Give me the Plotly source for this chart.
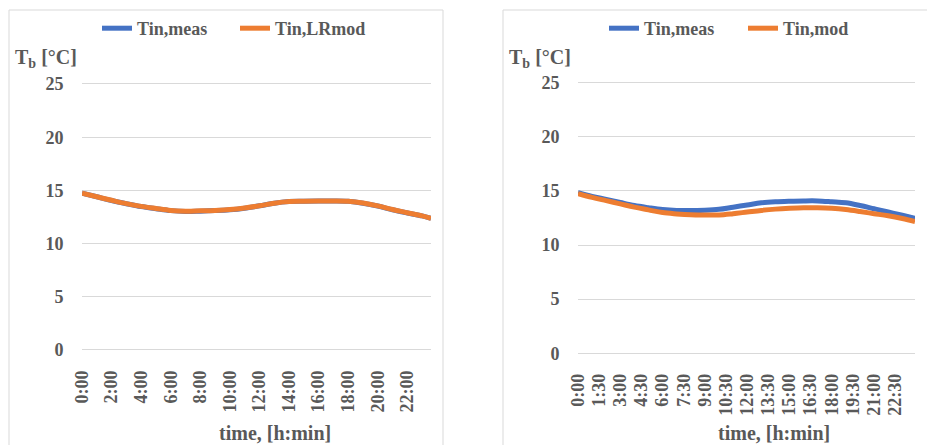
import plotly.graph_objects as go

W, H = 927, 445

# ---- data (hours since midnight, indoor temperature in °C) ----
hours_left = [0, 1, 2, 3, 4, 5, 6, 7, 8, 9, 10, 11, 12, 13, 14, 15, 16, 17, 18, 19, 20, 21, 22, 23, 23.6]
tin_meas_left = [14.75, 14.4, 14.05, 13.75, 13.48, 13.28, 13.1, 13.02, 13.05, 13.1, 13.18, 13.33, 13.55,
                 13.8, 13.95, 13.98, 14.0, 14.0, 13.97, 13.8, 13.53, 13.18, 12.88, 12.6, 12.38]
tin_lrmod_left = [14.73, 14.4, 14.07, 13.76, 13.5, 13.3, 13.12, 13.05, 13.08, 13.12, 13.2, 13.35, 13.55,
                  13.8, 13.95, 13.98, 14.0, 14.0, 13.97, 13.82, 13.55, 13.2, 12.9, 12.6, 12.38]

hours_right = [0, 1, 2, 3, 4, 5, 6, 7, 8, 9, 10, 11, 12, 13, 14, 15, 16, 17, 18, 19, 20, 21, 22, 23, 23.9]
tin_meas_right = [14.85, 14.5, 14.22, 13.93, 13.65, 13.45, 13.28, 13.2, 13.2, 13.22, 13.3, 13.5, 13.7,
                  13.9, 14.0, 14.05, 14.08, 14.08, 14.0, 13.9, 13.65, 13.35, 13.05, 12.75, 12.48]
tin_mod_right = [14.75, 14.4, 14.1, 13.8, 13.5, 13.25, 13.0, 12.88, 12.8, 12.78, 12.78, 12.9, 13.05,
                 13.2, 13.32, 13.4, 13.45, 13.45, 13.4, 13.28, 13.1, 12.9, 12.7, 12.45, 12.18]

tick_hours_left = [0, 2, 4, 6, 8, 10, 12, 14, 16, 18, 20, 22]
tick_text_left = ["0:00", "2:00", "4:00", "6:00", "8:00", "10:00", "12:00", "14:00", "16:00", "18:00", "20:00", "22:00"]
tick_hours_right = [0, 1.5, 3, 4.5, 6, 7.5, 9, 10.5, 12, 13.5, 15, 16.5, 18, 19.5, 21, 22.5]
tick_text_right = ["0:00", "1:30", "3:00", "4:30", "6:00", "7:30", "9:00", "10:30", "12:00", "13:30",
                   "15:00", "16:30", "18:00", "19:30", "21:00", "22:30"]
y_ticks = [0, 5, 10, 15, 20, 25]

BLUE = "#4472C4"
ORANGE = "#ED7D31"
GRID = "#D9D9D9"
TXT = "#595959"
FONT = "Times New Roman, Liberation Serif, serif"


def px_x(p):
    return p / W


def px_y(p):
    return (H - p) / H


fig = go.Figure()

fig.add_trace(go.Scatter(x=hours_left, y=tin_meas_left, name="Tin,meas", mode="lines",
                         line=dict(color=BLUE, width=5, shape="spline"), xaxis="x", yaxis="y",
                         legend="legend"))
fig.add_trace(go.Scatter(x=hours_left, y=tin_lrmod_left, name="Tin,LRmod", mode="lines",
                         line=dict(color=ORANGE, width=5, shape="spline"), xaxis="x", yaxis="y",
                         legend="legend"))
fig.add_trace(go.Scatter(x=hours_right, y=tin_meas_right, name="Tin,meas", mode="lines",
                         line=dict(color=BLUE, width=5, shape="spline"), xaxis="x2", yaxis="y2",
                         legend="legend2"))
fig.add_trace(go.Scatter(x=hours_right, y=tin_mod_right, name="Tin,mod", mode="lines",
                         line=dict(color=ORANGE, width=5, shape="spline"), xaxis="x2", yaxis="y2",
                         legend="legend2"))

# left plot geometry: value 0 at y=350 px, 25 at y=84 px
l_ppu = (350 - 84) / 25
l_lo, l_hi = -0.3, 25.3
r_ppu = (353.3 - 82.7) / 25
r_lo, r_hi = -0.3, 25.3

tickfont = dict(family=FONT, size=18, color=TXT, weight="bold")
titlefont = dict(family=FONT, size=20, color=TXT, weight="bold")
legfont = dict(family=FONT, size=18, color=TXT, weight="bold")

common_x = dict(showgrid=False, zeroline=False, showline=False, ticks="outside", ticklen=9,
                tickcolor="rgba(0,0,0,0)", tickangle=-90, tickfont=tickfont, tickmode="array",
                automargin=False)
common_y = dict(showgrid=True, gridcolor=GRID, gridwidth=1, zeroline=False, showline=False,
                ticks="outside", ticklen=14, tickcolor="rgba(0,0,0,0)", tickfont=tickfont,
                tickmode="array", tickvals=y_ticks, ticktext=[str(v) for v in y_ticks],
                automargin=False)

fig.update_layout(
    template="none",
    width=W, height=H,
    margin=dict(l=0, r=0, t=0, b=0, pad=0, autoexpand=False),
    paper_bgcolor="white", plot_bgcolor="white",
    font=dict(family=FONT, color=TXT, size=18, weight="bold"),
    xaxis=dict(domain=[px_x(82), px_x(431)], range=[0, 23.6], tickvals=tick_hours_left,
               ticktext=tick_text_left, anchor="y", **common_x),
    yaxis=dict(domain=[px_y(350 - l_lo * l_ppu), px_y(350 - l_hi * l_ppu)],
               range=[l_lo, l_hi], anchor="x", **common_y),
    xaxis2=dict(domain=[px_x(578), px_x(915)], range=[0, 23.9], tickvals=tick_hours_right,
                ticktext=tick_text_right, anchor="y2", **common_x),
    yaxis2=dict(domain=[px_y(353.3 - r_lo * r_ppu), px_y(353.3 - r_hi * r_ppu)],
                range=[r_lo, r_hi], anchor="x2", **common_y),
    legend=dict(orientation="h", x=px_x(97), y=px_y(10), xanchor="left", yanchor="top",
                font=legfont, bgcolor="rgba(0,0,0,0)", borderwidth=0, traceorder="normal",
                itemwidth=30, entrywidth=93),
    legend2=dict(orientation="h", x=px_x(604), y=px_y(10), xanchor="left", yanchor="top",
                 font=legfont, bgcolor="rgba(0,0,0,0)", borderwidth=0, traceorder="normal",
                 itemwidth=30, entrywidth=94),
    showlegend=True,
)

# panel borders
fig.add_shape(type="rect", xref="paper", yref="paper", x0=px_x(9), x1=px_x(443), y0=-0.02, y1=px_y(10),
              line=dict(color=GRID, width=1), fillcolor="rgba(0,0,0,0)", layer="below")
fig.add_shape(type="rect", xref="paper", yref="paper", x0=px_x(503), x1=1.02, y0=-0.02, y1=px_y(10),
              line=dict(color=GRID, width=1), fillcolor="rgba(0,0,0,0)", layer="below")

# y-axis labels (T_b [°C]) and x-axis titles
for xc in (46, 540):
    fig.add_annotation(text="T<sub>b</sub> [°C]", xref="paper", yref="paper", x=px_x(xc), y=px_y(58),
                       showarrow=False, xanchor="center", yanchor="middle",
                       font=dict(family=FONT, size=20, color=TXT, weight="bold"))
for xc in (275, 774):
    fig.add_annotation(text="time, [h:min]", xref="paper", yref="paper", x=px_x(xc), y=px_y(433),
                       showarrow=False, xanchor="center", yanchor="middle", font=titlefont)

fig.write_html("out.html")
